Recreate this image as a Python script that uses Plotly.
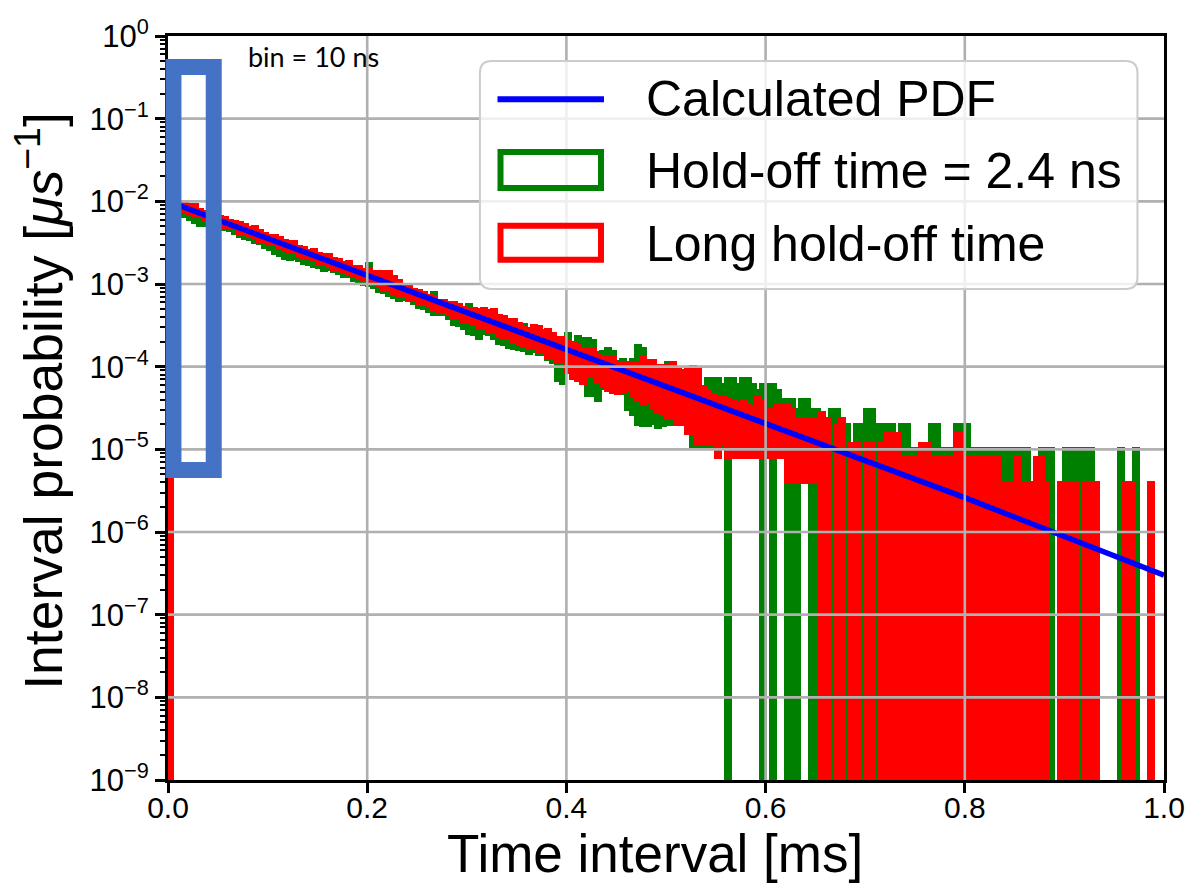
import plotly.graph_objects as go

# ---------------- data ----------------
BIN_W = 0.005          # ms, display bin width of the step histograms
N_BINS = 200
bin_left_ms = [round(i * BIN_W, 4) for i in range(N_BINS)]

# Calculated PDF (straight line on the log axis)
pdf_time_ms = [0.0, 0.2, 0.4, 0.6, 0.8, 1.0]
pdf_value = [1.0e-2, 1.26e-3, 1.58e-4, 2.0e-5, 2.6e-6, 3.0e-7]

N = None  # no counts in that bin (step outline drops to zero)

# log10 of interval probability [1/us]; per display bin: upper and lower envelope
red_max_log10 = [
    -1.96, -1.97, -2.02, -2.02, -2.05, -2.05, -2.10, -2.13, -2.13, -2.14,
    -2.19, -2.20, -2.24, -2.25, -2.26, -2.29, -2.32, -2.31, -2.36, -2.39,
    -2.42, -2.42, -2.44, -2.48, -2.49, -2.49, -2.55, -2.56, -2.60, -2.59,
    -2.64, -2.65, -2.65, -2.70, -2.71, -2.74, -2.73, -2.79, -2.79, -2.83,
    -2.83, -2.86, -2.86, -2.86, -2.86, -2.91, -2.96, -3.02, -3.02, -3.07,
    -3.08, -3.11, -3.15, -3.16, -3.20, -3.20, -3.23, -3.23, -3.25, -3.29,
    -3.30, -3.30, -3.31, -3.30, -3.33, -3.32, -3.39, -3.40, -3.44, -3.43,
    -3.48, -3.52, -3.55, -3.51, -3.53, -3.57, -3.56, -3.61, -3.65, -3.65,
    -3.69, -3.73, -3.75, -3.79, -3.80, -3.80, -3.87, -3.88, -3.89, -3.90,
    -3.95, -3.96, -3.95, -3.95, -3.95, -3.90, -3.93, -3.93, -3.99, -3.99,
    -3.98, -3.96, -4.02, -4.05, -4.02, -4.00, -4.02, -4.25, -4.30, -4.35,
    -4.37, -4.38, -4.40, -4.43, -4.45, -4.42, -4.48, -4.50, -4.37, -4.41,
    -4.51, -4.51, -4.46, -4.46, -4.46, -4.51, -4.63, -4.63, -4.63, -4.63,
    -4.63, -4.56, -4.63, N, -4.71, -4.63, N, -4.93, -4.93, N,
    -4.93, -4.93, N, -4.93, -4.81, -4.81, -4.81, -5.11, -5.11, -5.11,
    -5.11, -4.93, -4.93, -5.11, -5.11, -5.11, -5.11, -5.11, -4.81, -4.81,
    -5.11, -5.11, -5.11, -5.11, -5.11, -5.11, -5.11, -5.41, -5.41, -5.41,
    -5.11, -5.41, -5.41, -5.41, -5.11, -5.11, -5.41, N, N, -5.41,
    -5.41, -5.41, -5.41, N, -5.41, -5.41, -5.41, N, N, N,
    N, N, -5.41, -5.41, N, N, N, -5.41, N, N,
]
red_min_log10 = [
    N, -2.07, -2.12, -2.13, -2.15, -2.18, -2.19, -2.22, -2.25, -2.26,
    -2.29, -2.33, -2.33, -2.34, -2.39, -2.40, -2.43, -2.44, -2.49, -2.49,
    -2.52, -2.53, -2.56, -2.60, -2.61, -2.62, -2.66, -2.69, -2.69, -2.72,
    -2.76, -2.76, -2.79, -2.83, -2.84, -2.87, -2.88, -2.92, -2.94, -2.95,
    -2.98, -3.01, -3.03, -3.07, -3.08, -3.12, -3.14, -3.15, -3.19, -3.20,
    -3.25, -3.26, -3.27, -3.31, -3.35, -3.35, -3.38, -3.41, -3.42, -3.47,
    -3.47, -3.50, -3.55, -3.55, -3.58, -3.58, -3.64, -3.65, -3.66, -3.71,
    -3.72, -3.75, -3.79, -3.78, -3.83, -3.84, -3.89, -3.89, -3.95, -3.95,
    -4.06, -4.15, -4.17, -4.21, -4.12, -4.12, -4.19, -4.23, -4.29, -4.32,
    -4.33, -4.31, -4.30, -4.36, -4.41, -4.45, -4.44, -4.51, -4.56, -4.59,
    -4.63, -4.63, -4.71, -4.71, -4.81, -4.81, -4.93, -4.93, -4.93, -4.93,
    -5.11, -4.93, -5.11, -5.11, -5.11, -5.11, -5.11, -5.11, -5.11, -5.11,
    -5.11, -5.11, -5.11, -5.11, -5.41, -5.41, -5.41, -5.41, -5.41, -5.41,
    -5.41, N, N, N, N, N, N, N, N, N,
    N, N, N, N, N, N, N, N, N, N,
    N, N, N, N, N, N, N, N, N, N,
    N, N, N, N, N, N, N, N, N, N,
    N, N, N, N, N, N, N, N, N, N,
    N, N, N, N, N, N, N, N, N, N,
    N, N, N, N, N, N, N, N, N, N,
]
green_max_log10 = [
    -2.01, -2.04, -2.05, -2.08, -2.12, -2.12, -2.14, -2.18, -2.19, -2.19,
    -2.24, -2.27, -2.28, -2.29, -2.33, -2.37, -2.37, -2.38, -2.42, -2.44,
    -2.44, -2.48, -2.52, -2.53, -2.54, -2.57, -2.60, -2.60, -2.64, -2.67,
    -2.69, -2.70, -2.73, -2.75, -2.76, -2.80, -2.82, -2.83, -2.84, -2.89,
    -2.76, -2.91, -2.96, -2.96, -3.00, -3.01, -3.05, -3.04, -3.09, -3.10,
    -3.12, -3.16, -3.17, -3.11, -3.21, -3.25, -3.24, -3.28, -3.32, -3.32,
    -3.25, -3.35, -3.41, -3.39, -3.43, -3.47, -3.47, -3.51, -3.50, -3.56,
    -3.57, -3.50, -3.60, -3.60, -3.52, -3.62, -3.68, -3.68, -3.74, -3.71,
    -3.61, -3.71, -3.64, -3.67, -3.66, -3.69, -3.83, -3.82, -3.79, -3.82,
    -3.94, -3.92, -3.96, -3.92, -3.75, -3.79, -4.02, -3.99, -4.04, -4.02,
    -3.96, -4.00, -4.10, -4.15, -4.10, -4.22, -4.22, -4.30, -4.15, -4.15,
    -4.15, -4.22, -4.15, -4.15, -4.22, -4.15, -4.15, -4.22, -4.30, -4.22,
    -4.22, -4.22, -4.30, -4.40, -4.40, -4.40, -4.52, -4.40, -4.40, -4.52,
    -4.52, -4.70, -4.70, -4.52, -4.52, -4.70, -4.70, -5.00, -4.70, -4.70,
    -4.52, -4.52, -4.70, -4.70, -4.70, -4.70, -5.00, -4.70, -4.70, -5.00,
    -5.00, -5.00, -5.00, -4.70, -4.70, -5.00, -5.00, -5.00, -4.70, -4.70,
    -4.70, -5.00, -5.00, -5.00, -5.00, -5.00, -5.00, -5.00, -5.00, -5.00,
    -5.00, -5.00, -5.00, N, N, -5.00, -5.00, -5.00, N, N,
    -5.00, -5.00, -5.00, -5.00, -5.00, -5.00, N, N, N, N,
    N, -5.00, N, N, -5.00, N, N, N, N, N,
]
green_min_log10 = [
    N, -2.13, -2.18, -2.19, -2.23, -2.26, -2.30, -2.30, -2.33, -2.36,
    -2.32, -2.35, -2.36, -2.40, -2.43, -2.46, -2.47, -2.51, -2.52, -2.56,
    -2.59, -2.64, -2.66, -2.70, -2.71, -2.70, -2.72, -2.76, -2.77, -2.80,
    -2.81, -2.84, -2.83, -2.86, -2.88, -2.92, -2.92, -2.96, -2.98, -3.01,
    -3.02, -3.05, -3.10, -3.11, -3.15, -3.17, -3.21, -3.19, -3.20, -3.24,
    -3.29, -3.30, -3.34, -3.37, -3.37, -3.38, -3.42, -3.49, -3.51, -3.55,
    -3.61, -3.62, -3.67, -3.61, -3.62, -3.66, -3.73, -3.74, -3.78, -3.79,
    -3.80, -3.81, -3.85, -3.82, -3.86, -3.86, -3.92, -3.95, -4.17, -4.21,
    -4.08, -4.09, -4.16, -4.20, -4.35, -4.36, -4.41, -4.27, -4.27, -4.32,
    -4.32, -4.33, -4.53, -4.58, -4.71, -4.72, -4.72, -4.69, -4.74, -4.72,
    -4.70, -4.70, -4.70, -4.70, -4.70, -5.00, -5.00, -5.00, -5.00, -5.00,
    -4.70, -5.00, N, -5.00, -5.00, -5.00, -4.70, -5.00, -5.00, N,
    -5.00, N, -5.00, -5.00, N, N, N, -5.00, -5.00, N,
    N, -5.00, N, N, N, N, N, N, N, N,
    N, N, N, N, N, N, N, N, N, N,
    N, N, N, N, N, N, N, N, N, N,
    N, N, N, N, N, N, N, N, N, N,
    N, N, N, N, N, N, N, N, N, N,
    N, N, N, N, N, N, N, N, N, N,
    N, N, N, N, N, N, N, N, N, N,
]

x_tick_vals = [0.0, 0.2, 0.4, 0.6, 0.8, 1.0]
x_tick_text = ["0.0", "0.2", "0.4", "0.6", "0.8", "1.0"]
y_decades = [-9, -8, -7, -6, -5, -4, -3, -2, -1, 0]
y_tick_text = ["10<sup>\u2212%d</sup>" % (-d) if d < 0 else "10<sup>0</sup>" for d in y_decades]

# ---------------- styles ----------------
GREEN = "#008000"
RED = "#ff0000"
BLUE = "#0000ff"
FONT = "Liberation Sans, Arial, sans-serif"
FLOOR = 1e-12  # below the visible axis range: empty bins reach the bottom
STEP_LW = 3    # outline thickness of the step histograms


def envelope_bars(lo_list, hi_list, color):
    xs, base, length = [], [], []
    for i, (lo, hi) in enumerate(zip(lo_list, hi_list)):
        if hi is None:
            continue
        top = 10 ** hi
        bot = FLOOR if lo is None else 10 ** lo
        xs.append(bin_left_ms[i] + BIN_W / 2)
        base.append(bot)
        length.append(top - bot)
    return go.Bar(
        x=xs, y=length, base=base, width=BIN_W,
        marker=dict(color=color, line=dict(color=color, width=STEP_LW)),
        opacity=1, showlegend=False, hoverinfo="skip",
    )


fig = go.Figure()
fig.add_trace(envelope_bars(green_min_log10, green_max_log10, GREEN))
fig.add_trace(envelope_bars(red_min_log10, red_max_log10, RED))
fig.add_trace(go.Scatter(x=pdf_time_ms, y=pdf_value, mode="lines",
                         line=dict(color=BLUE, width=5.5), showlegend=False,
                         hoverinfo="skip"))

# plot area in pixels: x 168..1170, y 36..780
L, R, T, B = 168, 1170, 36, 780
W, H = 1197, 884


def px(xpix):
    return (xpix - L) / (R - L)


def py(ypix):
    return (B - ypix) / (B - T)


shapes = []
# grid on top of the data (as in the reference)
for xv in x_tick_vals[1:-1]:
    shapes.append(dict(type="line", xref="x", yref="paper", x0=xv, x1=xv, y0=0, y1=1,
                       line=dict(color="#b0b0b0", width=2.6), layer="above"))
for d in y_decades[1:-1]:
    yp = (d + 9) / 9
    shapes.append(dict(type="line", xref="paper", yref="paper", x0=0, x1=1, y0=yp, y1=yp,
                       line=dict(color="#b0b0b0", width=2.6), layer="above"))

# legend frame with rounded corners
x0, x1, y0, y1 = px(481.8), px(1143.3), py(289), py(61)
rx, ry = 12 / (R - L), 12 / (B - T)
path = (f"M {x0+rx},{y1} L {x1-rx},{y1} Q {x1},{y1} {x1},{y1-ry} L {x1},{y0+ry} "
        f"Q {x1},{y0} {x1-rx},{y0} L {x0+rx},{y0} Q {x0},{y0} {x0},{y0+ry} "
        f"L {x0},{y1-ry} Q {x0},{y1} {x0+rx},{y1} Z")
shapes.append(dict(type="path", xref="paper", yref="paper", path=path,
                   fillcolor="rgba(255,255,255,0.8)", line=dict(color="#cccccc", width=2),
                   layer="above"))
# legend swatches
shapes.append(dict(type="line", xref="paper", yref="paper", x0=px(499.5), x1=px(606.6),
                   y0=py(99.3), y1=py(99.3), line=dict(color=BLUE, width=6), layer="above"))
shapes.append(dict(type="rect", xref="paper", yref="paper", x0=px(502.5), x1=px(603.6),
                   y0=py(188), y1=py(152), line=dict(color=GREEN, width=6),
                   fillcolor="rgba(0,0,0,0)", layer="above"))
shapes.append(dict(type="rect", xref="paper", yref="paper", x0=px(502.5), x1=px(603.6),
                   y0=py(259.7), y1=py(225.7), line=dict(color=RED, width=6),
                   fillcolor="rgba(0,0,0,0)", layer="above"))
# highlight box
shapes.append(dict(type="rect", xref="paper", yref="paper", x0=px(173.5), x1=px(214),
                   y0=py(470), y1=py(67), line=dict(color="#4472C4", width=16),
                   fillcolor="rgba(0,0,0,0)", layer="above"))

annotations = [
    dict(text="Calculated PDF", x=px(647), y=py(99), xref="paper", yref="paper",
         xanchor="left", yanchor="middle", showarrow=False,
         font=dict(family=FONT, size=50, color="black")),
    dict(text="Hold-off time = 2.4 ns", x=px(647), y=py(171), xref="paper", yref="paper",
         xanchor="left", yanchor="middle", showarrow=False,
         font=dict(family=FONT, size=50, color="black")),
    dict(text="Long hold-off time", x=px(647), y=py(244), xref="paper", yref="paper",
         xanchor="left", yanchor="middle", showarrow=False,
         font=dict(family=FONT, size=50, color="black")),
    dict(text="bin = 10 ns", x=px(246), y=py(57), xref="paper", yref="paper",
         xanchor="left", yanchor="middle", showarrow=False,
         font=dict(family="Lato, Open Sans, sans-serif", size=27, color="black")),
    dict(text="Time interval [ms]", x=px(658), y=py(854), xref="paper", yref="paper",
         xanchor="center", yanchor="middle", showarrow=False,
         font=dict(family=FONT, size=53, color="black")),
    dict(text="Interval probability [<i>\u03bcs</i><sup>\u22121</sup>]", x=px(38), y=py(401),
         xref="paper", yref="paper", xanchor="center", yanchor="middle", showarrow=False,
         textangle=-90, font=dict(family=FONT, size=53.5, color="black")),
]

minor_vals = [m * 10.0 ** k for k in range(-9, 0) for m in range(2, 10)]

fig.update_layout(
    width=W, height=H,
    margin=dict(l=L, r=W - R, t=T, b=H - B, pad=0),
    paper_bgcolor="white", plot_bgcolor="white",
    barmode="overlay", bargap=0, showlegend=False,
    font=dict(family=FONT, color="black"),
    shapes=shapes, annotations=annotations,
)
fig.update_xaxes(
    range=[0, 1.0], tickmode="array", tickvals=x_tick_vals, ticktext=x_tick_text,
    ticks="outside", ticklen=10, tickwidth=2.5, tickcolor="black",
    showline=True, linewidth=3, linecolor="black", mirror=True,
    showgrid=False, zeroline=False, tickfont=dict(family=FONT, size=30, color="black"),
    ticklabelstandoff=-11,
)
fig.update_yaxes(
    type="log", range=[-9, 0], tickmode="array",
    tickvals=[10.0 ** d for d in y_decades], ticktext=y_tick_text,
    ticks="outside", ticklen=10, tickwidth=2.5, tickcolor="black",
    showline=True, linewidth=3, linecolor="black", mirror=True,
    showgrid=False, zeroline=False, tickfont=dict(family=FONT, size=31, color="black"),
    minor=dict(tickvals=minor_vals, ticks="outside", ticklen=5, tickwidth=1.5,
               tickcolor="black", showgrid=False),
)

fig.write_html("out.html")
